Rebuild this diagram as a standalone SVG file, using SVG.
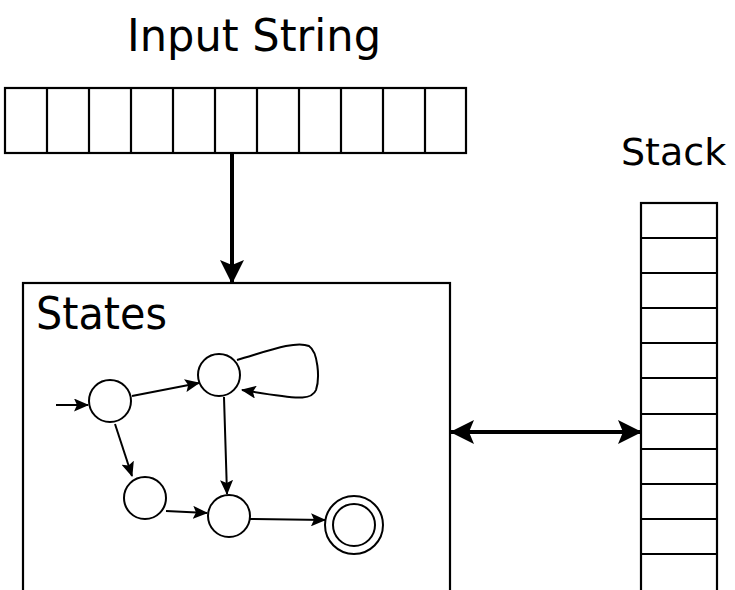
<svg xmlns="http://www.w3.org/2000/svg" width="735" height="590" viewBox="0 0 735 590">
<style>
  .lbl { font-family: "DejaVu Sans", sans-serif; font-size: 44px; fill: #000; }
  .cell { fill: #fff; stroke: #000; stroke-width: 2.2; }
  .st { fill: #fff; stroke: #000; stroke-width: 2; }
  .e { fill: none; stroke: #000; stroke-width: 2; marker-end: url(#ah); }
  .big { fill: none; stroke: #000; stroke-width: 4; }
</style>
<defs>
  <marker id="ah" markerUnits="userSpaceOnUse" markerWidth="15" markerHeight="13" viewBox="0 0 15 13" refX="14" refY="6.5" orient="auto">
    <path d="M0,0 L15,6.5 L0,13 L3,6.5 Z" fill="#000"/>
  </marker>
  <marker id="bh" markerUnits="userSpaceOnUse" markerWidth="24" markerHeight="24" viewBox="0 0 24 24" refX="23" refY="12" orient="auto">
    <path d="M0,0 L24,12 L0,24 L5,12 Z" fill="#000"/>
  </marker>
  <marker id="bhs" markerUnits="userSpaceOnUse" markerWidth="24" markerHeight="24" viewBox="0 0 24 24" refX="1" refY="12" orient="auto">
    <path d="M24,0 L0,12 L24,24 L19,12 Z" fill="#000"/>
  </marker>
</defs>

<g id="input-string">
  <text class="lbl" x="127" y="51" textLength="254" lengthAdjust="spacingAndGlyphs">Input String</text>
  <rect class="cell" x="5" y="88" width="461" height="65"/>
  <path d="M47,88V153 M89,88V153 M131,88V153 M173,88V153 M215,88V153 M257,88V153 M299,88V153 M341,88V153 M383,88V153 M425,88V153" stroke="#000" stroke-width="2.2"/>
</g>

<g id="stack">
  <text class="lbl" x="621" y="165" style="font-size:38px">Stack</text>
  <rect class="cell" x="641" y="203" width="76" height="390"/>
  <path d="M641,238H717 M641,273H717 M641,308H717 M641,343H717 M641,378H717 M641,414H717 M641,449H717 M641,484H717 M641,519H717 M641,554H717" stroke="#000" stroke-width="2.2"/>
</g>

<g id="states">
  <rect class="cell" x="23" y="283" width="427" height="310"/>
  <text class="lbl" x="36" y="329" textLength="131" lengthAdjust="spacingAndGlyphs">States</text>
</g>

<g id="q0"><circle class="st" cx="110" cy="401" r="21"/></g>
<g id="q1"><circle class="st" cx="219" cy="375" r="21"/></g>
<g id="q2"><circle class="st" cx="145" cy="498" r="21"/></g>
<g id="q3"><circle class="st" cx="229" cy="516" r="21"/></g>
<g id="q4">
  <circle class="st" cx="354" cy="525" r="29"/>
  <circle class="st" cx="354" cy="525" r="21"/>
</g>

<g id="connectors">
  <line class="big" x1="232" y1="153" x2="232" y2="283" marker-end="url(#bh)"/>
  <line class="big" x1="451" y1="432" x2="641" y2="432" marker-start="url(#bhs)" marker-end="url(#bh)"/>
  <line class="e" x1="56" y1="405" x2="88" y2="405"/>
  <line class="e" x1="132" y1="396" x2="199" y2="383"/>
  <line class="e" x1="115" y1="424" x2="132" y2="476"/>
  <line class="e" x1="224" y1="397" x2="227" y2="494"/>
  <line class="e" x1="166" y1="511" x2="207" y2="513"/>
  <line class="e" x1="250" y1="519" x2="325" y2="520"/>
  <path class="e" d="M237,360 C265,352 295,340 309,346 C318,352 320,378 316,390 C312,400 295,398 282,396 C265,394 255,392 242,390"/>
</g>
</svg>
